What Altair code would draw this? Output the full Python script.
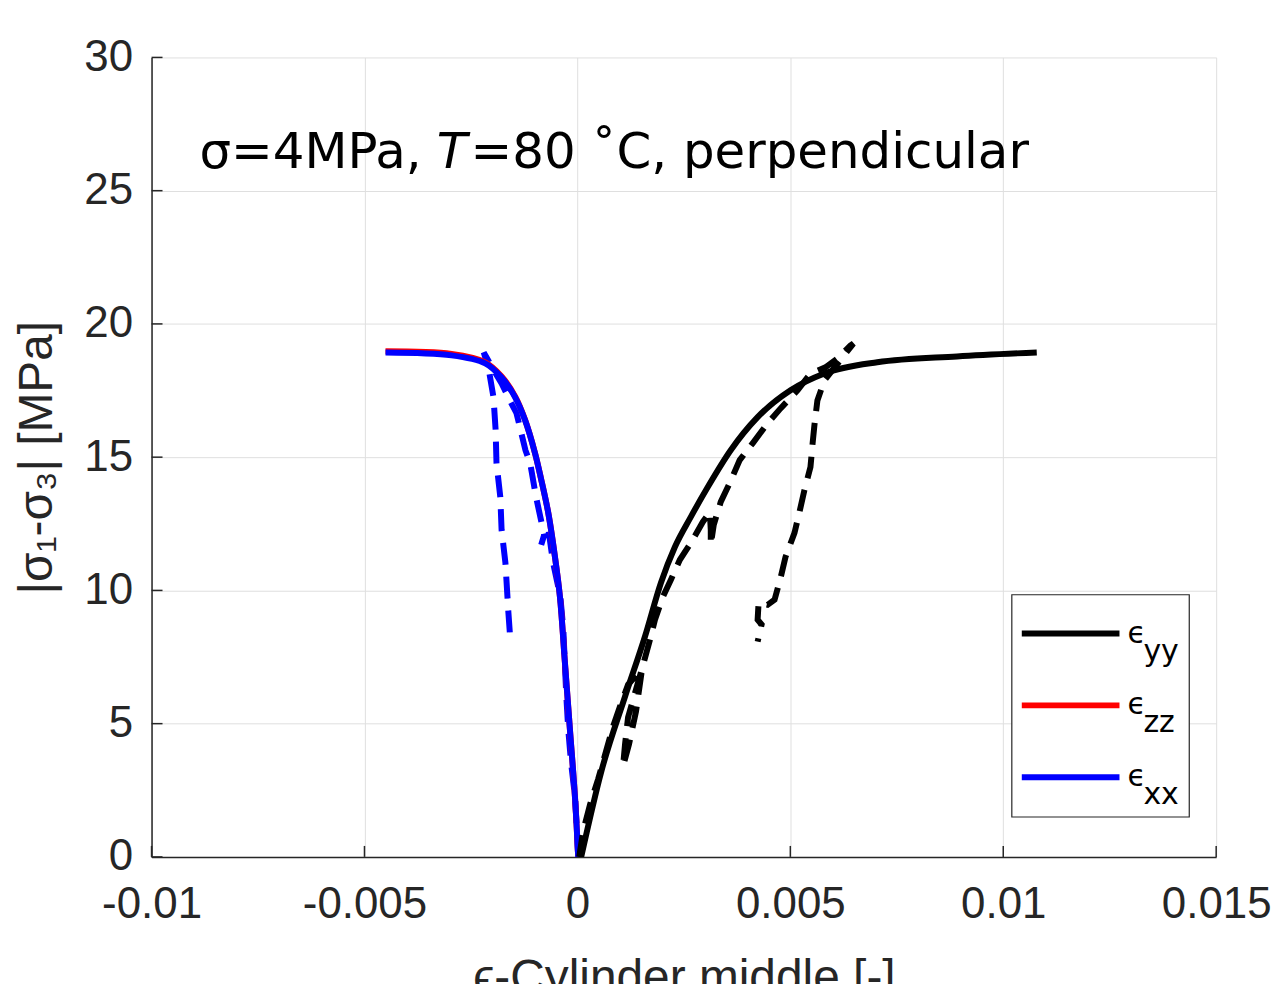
import altair as alt
import pandas as pd

# ---------------- data ----------------
x_ticks = [-0.01, -0.005, 0, 0.005, 0.01, 0.015]
y_ticks = [0, 5, 10, 15, 20, 25, 30]

# simulation (solid) curves
yy_sim_x = [0.000089, 0.000557, 0.001119, 0.001587, 0.001962, 0.002289, 0.002664, 0.003062,
            0.003600, 0.004232, 0.005005, 0.005800, 0.007041, 0.008914, 0.010787]
yy_sim_y = [0.0, 3.18, 6.02, 8.27, 10.29, 11.63, 12.76, 13.88, 15.26, 16.50, 17.51, 18.14,
            18.56, 18.78, 18.93]

zz_sim_x = [0.000019, -0.000059, -0.000176, -0.000293, -0.000410, -0.000527, -0.000684,
            -0.000847, -0.000995, -0.001229, -0.001463, -0.001784, -0.002165, -0.002954, -0.004506]
zz_sim_y = [0.0, 2.29, 4.79, 7.29, 9.76, 11.26, 12.91, 14.14, 15.15, 16.40, 17.28, 18.04,
            18.56, 18.87, 18.97]

xx_sim_x = [0.000019, -0.000059, -0.000176, -0.000293, -0.000410, -0.000527, -0.000684,
            -0.000847, -0.000995, -0.001229, -0.001463, -0.001784, -0.002165, -0.002954, -0.004506]
xx_sim_y = [0.0, 2.29, 4.79, 7.29, 9.76, 11.26, 12.91, 14.14, 15.15, 16.39, 17.25, 18.00,
            18.52, 18.82, 18.93]

# experiment (dashed) curves
yy_exp_x = [0.000042, 0.000136, 0.000300, 0.000487, 0.000674, 0.000838, 0.001002, 0.001190,
            0.001517, 0.001376, 0.001213, 0.001072, 0.001119, 0.001190, 0.001376, 0.001564,
            0.001704, 0.001821, 0.002008, 0.002196, 0.002406, 0.002664, 0.002945, 0.003109,
            0.003132, 0.003132, 0.003202, 0.003366, 0.003577, 0.003811, 0.004115, 0.004466,
            0.004771, 0.005169, 0.005473, 0.005824, 0.006105, 0.006409, 0.006480,
            0.005800, 0.005636, 0.005566, 0.005519, 0.005473, 0.005332, 0.005215, 0.005098,
            0.004888, 0.004771, 0.004630, 0.004466, 0.004255, 0.004232, 0.004326, 0.004232]
yy_exp_y = [0.0, 0.97, 1.98, 2.92, 3.97, 4.90, 5.65, 6.47,
            7.03, 5.46, 4.23, 3.40, 4.23, 5.24, 6.28, 7.33,
            8.15, 8.90, 9.76, 10.40, 11.15, 11.78, 12.57, 12.94,
            12.27, 11.71, 12.46, 13.32, 14.03, 14.89, 15.52, 16.27,
            16.83, 17.51, 18.14, 18.37, 18.70, 19.19, 19.26,
            17.88, 17.13, 16.20, 15.45, 14.63, 13.77, 12.94, 12.16,
            11.26, 10.47, 9.65, 9.46, 9.54, 8.90, 8.72, 8.08]

xx_exp_x = [0.000019, -0.000050, -0.000150, -0.000215, -0.000260, -0.000330, -0.000400,
            -0.000570, -0.000680, -0.000730, -0.000850, -0.000780, -0.000970, -0.001110,
            -0.001220, -0.001430, -0.001550, -0.001780, -0.001920, -0.002200,
            -0.002090, -0.001970, -0.001920, -0.001900, -0.001810, -0.001780, -0.001690,
            -0.001620, -0.001570]
xx_exp_y = [0.0, 2.17, 3.55, 4.79, 6.02, 8.53, 9.76,
            11.03, 12.27, 12.34, 11.71, 12.08, 13.50, 14.78,
            15.26, 16.65, 17.02, 17.77, 18.14, 18.93,
            18.37, 17.24, 16.01, 14.78, 13.50, 12.27, 11.03,
            9.16, 8.04]

legend_names = ["yy", "zz", "xx"]
legend_colors = ["#000000", "#ff0000", "#0000ff"]

# ---------------- layout ----------------
W, H = 1068, 802
TXT = "#262626"
GRID = "#dfdfdf"

xscale = alt.Scale(domain=[-0.01, 0.015], nice=False, zero=False)
yscale = alt.Scale(domain=[0, 30], nice=False, zero=False)

xaxis = alt.Axis(
    values=x_ticks,
    labelExpr="datum.value < 0 ? '-' + format(-datum.value, '~g') : format(datum.value, '~g')",
    title="ϵ-Cylinder middle [-]",
    titleFont="Liberation Sans", titleFontSize=48, titleFontWeight="normal", titleColor=TXT,
    titleX=W / 2, titleY=136, titleAlign="center", titleBaseline="alphabetic",
    labelFont="Liberation Sans", labelFontSize=44, labelColor=TXT, labelPadding=26,
    labelFlush=False, labelOverlap=False,
    ticks=False, domainColor=TXT, domainWidth=1.5,
    grid=True, gridColor=GRID, gridWidth=1,
)
yaxis = alt.Axis(
    values=y_ticks,
    title="|σ₁-σ₃| [MPa]",
    titleFont="Liberation Sans", titleFontSize=48, titleFontWeight="normal", titleColor=TXT,
    titleAngle=270, titleX=-100, titleY=H / 2, titleAlign="center", titleBaseline="alphabetic",
    labelFont="Liberation Sans", labelFontSize=44, labelColor=TXT, labelPadding=19,
    labelFlush=False, labelOverlap=False,
    ticks=False, domainColor=TXT, domainWidth=1.5,
    grid=True, gridColor=GRID, gridWidth=1,
)

X = alt.X("x:Q", scale=xscale, axis=xaxis)
Y = alt.Y("y:Q", scale=yscale, axis=yaxis)


def frame(xs, ys):
    return pd.DataFrame({"x": xs, "y": ys, "i": list(range(len(xs)))})


def curve(xs, ys, color, dashed=False, interp="linear"):
    kw = dict(color=color, strokeWidth=6, interpolate=interp, clip=True)
    if dashed:
        kw["strokeDash"] = [22, 12]
    return alt.Chart(frame(xs, ys)).mark_line(**kw).encode(x=X, y=Y, order="i:Q")


layers = []
# inward ticks
layers.append(
    alt.Chart(pd.DataFrame({"x": x_ticks})).mark_rule(color=TXT, strokeWidth=1.5).encode(
        x=X, y=alt.value(H), y2=alt.value(H - 11))
)
layers.append(
    alt.Chart(pd.DataFrame({"y": y_ticks})).mark_rule(color=TXT, strokeWidth=1.5).encode(
        y=Y, x=alt.value(0), x2=alt.value(11))
)

layers.append(curve(xx_exp_x, xx_exp_y, "#0000ff", dashed=True))
layers.append(curve(zz_sim_x, zz_sim_y, "#ff0000", interp="catmull-rom"))
layers.append(curve(xx_sim_x, xx_sim_y, "#0000ff", interp="catmull-rom"))
layers.append(curve(yy_exp_x, yy_exp_y, "#000000", dashed=True))
layers.append(curve(yy_sim_x, yy_sim_y, "#000000", interp="monotone"))

one = pd.DataFrame({"a": [0]})

# annotation text
ann_parts = [("σ=4MPa, ", 48, "normal"), ("T", 286, "italic"), ("=80 ˚C, perpendicular", 320, "normal")]
for txt, px, style in ann_parts:
    layers.append(
        alt.Chart(one).mark_text(
            text=txt, font="DejaVu Sans", fontSize=50, fontStyle=style, color="#000000",
            align="left", baseline="alphabetic",
        ).encode(x=alt.value(px), y=alt.value(111))
    )

# legend box
layers.append(
    alt.Chart(one).mark_rect(fill="white", stroke=TXT, strokeWidth=1.2).encode(
        x=alt.value(863), x2=alt.value(1041), y=alt.value(539), y2=alt.value(762))
)
for k, (nm, col) in enumerate(zip(legend_names, legend_colors)):
    ly = 578 + 72 * k
    layers.append(
        alt.Chart(one).mark_rule(color=col, strokeWidth=6).encode(
            x=alt.value(873), x2=alt.value(971), y=alt.value(ly))
    )
    layers.append(
        alt.Chart(one).mark_text(text="ϵ", font="DejaVu Sans", fontSize=30, color="#000000",
                                 align="left", baseline="alphabetic").encode(
            x=alt.value(979), y=alt.value(ly + 9))
    )
    layers.append(
        alt.Chart(one).mark_text(text=nm, font="DejaVu Sans", fontSize=30, color="#000000",
                                 align="left", baseline="alphabetic").encode(
            x=alt.value(995), y=alt.value(ly + 27))
    )

chart = alt.layer(*layers).properties(
    width=W, height=H,
    padding={"left": 144, "top": 48, "right": 56, "bottom": 150},
    autosize=alt.AutoSizeParams(type="none"),
    background="white",
).configure_view(stroke=None)

chart.save("out.html", embed_options={"renderer": "svg", "actions": False})
